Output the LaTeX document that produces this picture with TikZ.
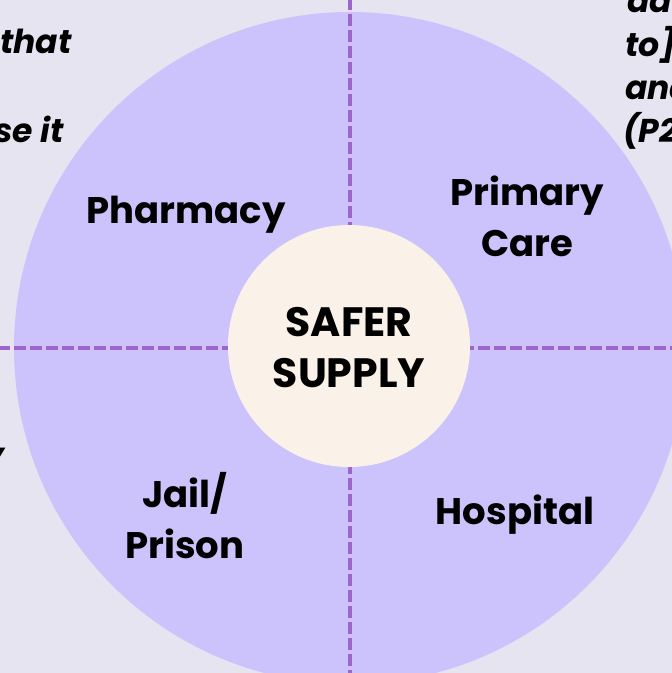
\documentclass[tikz,border=0pt]{standalone}
\usepackage{fontspec}
\setmainfont{Poppins}
\definecolor{bgc}{RGB}{231,228,241}
\definecolor{ringc}{RGB}{205,195,252}
\definecolor{hubc}{RGB}{250,242,232}
\definecolor{dashc}{RGB}{160,100,205}
\tikzset{
  lbl/.style={font=\bfseries\fontsize{37}{51}\selectfont, align=center, text=black, inner sep=0pt},
  hublbl/.style={font=\bfseries\fontsize{41}{51}\selectfont, align=center, text=black, inner sep=0pt},
  side/.style={font=\bfseries\itshape\fontsize{33}{43.5}\selectfont, text=black, inner sep=0pt},
  divider/.style={draw=dashc, line width=4pt, dash pattern=on 12pt off 4pt}
}
\begin{document}
\begin{tikzpicture}[x=1pt,y=-1pt]
\useasboundingbox (0,0) rectangle (672,673);
\clip (0,0) rectangle (672,673);
\fill[bgc] (0,0) rectangle (672,673);
\fill[ringc] (350,348) circle[radius=336];
% side text fragments
\node[side, anchor=base east] (l1) at (72,53) {that};
\node[side, anchor=base east] (l2) at (64,142) {se it};
\node[side, anchor=base east] (l3) at (4.5,466) {y};
\node[side, anchor=base west] (r0) at (627,12) {ad};
\node[side, anchor=base west] (r1) at (625,56) {to]};
\node[side, anchor=base west] (r2) at (625,99) {and};
\node[side, anchor=base west] (r3) at (623,142) {(P2};
% dividers
\coordinate (top) at (350,-2);
\coordinate (bot) at (350,675);
\coordinate (lft) at (-2,348);
\coordinate (rgt) at (674,348);
\draw[divider] (top) -- (bot);
\draw[divider] (lft) -- (rgt);
% hub
\node[circle, fill=hubc, minimum size=242pt, inner sep=0pt] (hub) at (349,346) {};
\node[hublbl] (safer) at (349,348) {SAFER\\SUPPLY};
% sectors
\node[lbl] (pharm) at (186,215) {Pharmacy};
\node[lbl] (prim) at (527,216) {Primary\\Care};
\node[lbl] (jail) at (185,516) {Jail/\\Prison};
\node[lbl] (hosp) at (515,515) {Hospital};
\end{tikzpicture}
\end{document}
